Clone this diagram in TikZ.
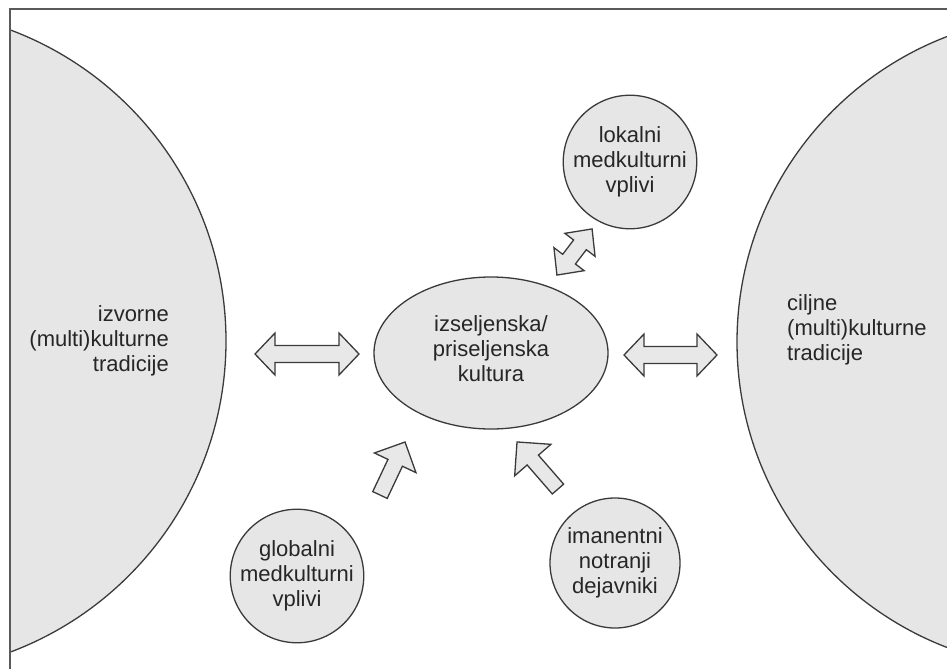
\documentclass[tikz,border=0pt]{standalone}
\usepackage{fontspec}
\setmainfont{Liberation Sans}
\usetikzlibrary{shapes.geometric}
\definecolor{fillc}{HTML}{E6E6E6}
\definecolor{arrowc}{HTML}{E8E8E8}
\definecolor{linec}{HTML}{3A3A3A}
\definecolor{framec}{HTML}{5A5A5A}
% block arrows drawn along the local x axis: centre x, centre y, angle, length, head length, half head width, half shaft width
\newcommand\twoheadarrow[7]{%
  \draw[blockarrow, shift={(#1,#2)}, rotate=#3]
    ({-#4/2},0) -- ({-#4/2+#5},#6) -- ({-#4/2+#5},#7) -- ({#4/2-#5},#7)
    -- ({#4/2-#5},#6) -- ({#4/2},0) -- ({#4/2-#5},-#6) -- ({#4/2-#5},-#7)
    -- ({-#4/2+#5},-#7) -- ({-#4/2+#5},-#6) -- cycle;}
\newcommand\oneheadarrow[7]{%
  \draw[blockarrow, shift={(#1,#2)}, rotate=#3]
    ({-#4/2},#7) -- ({#4/2-#5},#7) -- ({#4/2-#5},#6) -- ({#4/2},0)
    -- ({#4/2-#5},-#6) -- ({#4/2-#5},-#7) -- ({-#4/2},-#7) -- cycle;}
\begin{document}
\begin{tikzpicture}[x=1pt, y=-1pt,
  blob/.style={draw=linec, fill=fillc, line width=1.3pt},
  lbl/.style={font=\fontsize{22}{25}\selectfont, inner sep=0pt, text=black!85},
  blockarrow/.style={draw=linec, fill=arrowc, line width=1.3pt, line join=miter}]
\useasboundingbox (0,0) rectangle (947,669);
\begin{scope}
\clip (10,9) rectangle (947,669);
% the two large traditions, cut by the frame
\node[blob, circle, minimum size=664pt, inner sep=0pt] (src) at (-106,341) {};
\node[blob, circle, minimum size=654pt, inner sep=0pt] (dst) at (1064,342) {};
\end{scope}
% frame
\draw[framec, line width=1.2pt] (10,669) -- (10,9) -- (947,9);

% central culture
\node[blob, ellipse, minimum width=234pt, minimum height=152pt, inner sep=0pt] (mid) at (491,353) {};
\node[lbl, align=center] (midtxt) at (491,349) {izseljenska/\\priseljenska\\kultura};

% texts of the large circles
\node[lbl, align=right, anchor=east] (srctxt) at (169,341) {izvorne\\(multi)kulturne\\tradicije};
\node[lbl, align=left, anchor=west] (dsttxt) at (787,330) {ciljne\\(multi)kulturne\\tradicije};

% influence circles
\node[blob, lbl, circle, minimum size=126pt, align=center] (loc) at (630,162) {lokalni\\medkulturni\\vplivi};
\node[blob, lbl, circle, minimum size=132pt, align=center] (glob) at (297,576) {globalni\\medkulturni\\vplivi};
\node[blob, lbl, circle, minimum size=130pt, align=center] (imm) at (615,563) {imanentni\\notranji\\dejavniki};

% exchange and influence arrows
\twoheadarrow{307}{354}{0}{104}{20}{21}{8.5}
\twoheadarrow{670.5}{355}{0}{93}{20}{21}{8.5}
\twoheadarrow{574.5}{252}{52.7}{58}{20}{19}{8}
\oneheadarrow{392.5}{468.5}{64.7}{58.6}{23}{23}{8}
\oneheadarrow{537.5}{465.5}{131}{62.4}{24}{24}{7.5}
\end{tikzpicture}
\end{document}
